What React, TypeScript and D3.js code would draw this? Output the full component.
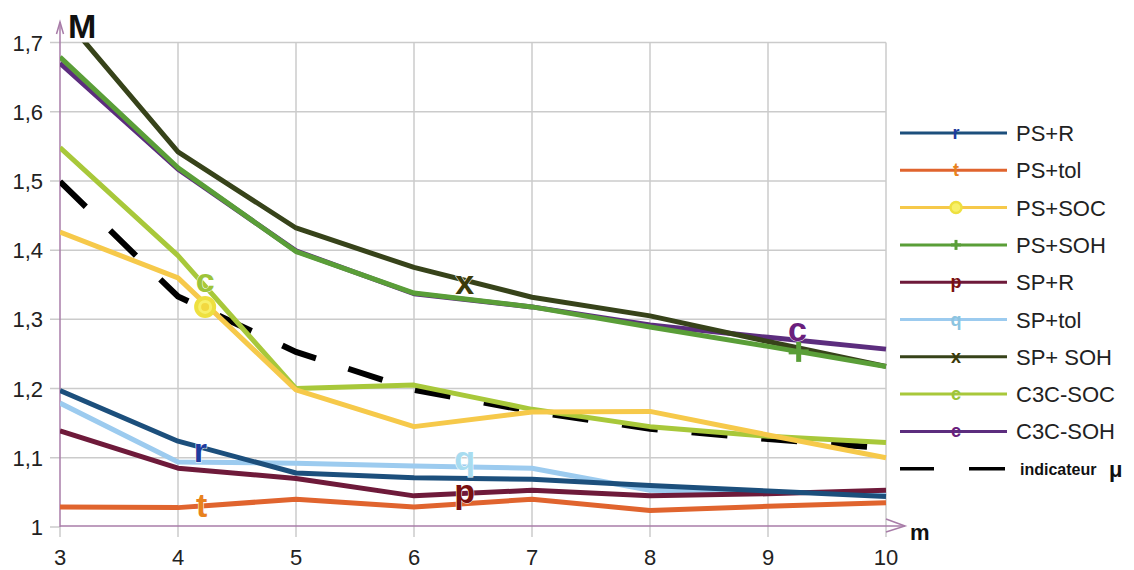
import React from "react";
import * as d3 from "d3";

const mValues = [3, 4, 5, 6, 7, 8, 9, 10];
const yTicks = [1, 1.1, 1.2, 1.3, 1.4, 1.5, 1.6, 1.7];
const yTickLabels = ["1", "1,1", "1,2", "1,3", "1,4", "1,5", "1,6", "1,7"];
const xTickLabels = ["3", "4", "5", "6", "7", "8", "9", "10"];

const psR = [1.197, 1.124, 1.078, 1.071, 1.069, 1.06, 1.052, 1.044];
const psTol = [1.029, 1.028, 1.04, 1.029, 1.04, 1.024, 1.03, 1.035];
const psSOC = [1.426, 1.36, 1.198, 1.145, 1.166, 1.167, 1.133, 1.1];
const psSOH = [1.679, 1.519, 1.398, 1.338, 1.318, 1.289, 1.261, 1.232];
const spR = [1.139, 1.085, 1.07, 1.045, 1.053, 1.045, 1.048, 1.053];
const spTol = [1.179, 1.094, 1.092, 1.088, 1.085, 1.053, 1.05, 1.05];
const spSOH = [1.743, 1.542, 1.432, 1.375, 1.332, 1.305, 1.268, 1.232];
const c3cSOC = [1.548, 1.392, 1.2, 1.205, 1.17, 1.145, 1.131, 1.122];
const c3cSOH = [1.67, 1.517, 1.399, 1.337, 1.318, 1.292, 1.274, 1.257];
const muValues = [1.499, 1.333, 1.253, 1.198, 1.167, 1.142, 1.127, 1.114];

const seriesNames = ["PS+R", "PS+tol", "PS+SOC", "PS+SOH", "SP+R", "SP+tol", "SP+ SOH", "C3C-SOC", "C3C-SOH"];
const seriesValues = [psR, psTol, psSOC, psSOH, spR, spTol, spSOH, c3cSOC, c3cSOH];
const seriesColors = ["#1c4f7c", "#e0642e", "#f6c94a", "#5a9e38", "#6e1a3a", "#9ccbef", "#37431a", "#a8c83a", "#5c2d7e"];
const seriesGlyphs = ["r", "t", "o", "+", "p", "q", "x", "c", "c"];
const glyphColors = ["#1f3c9e", "#e8821e", "#f2e430", "#5a9e38", "#7a1010", "#a8dcf0", "#3b3a0a", "#9dc43a", "#6a1f7d"];
const muName = "indicateur";

// on-chart glyph annotations: [series index, m, M]
const annotations: [number, number, number][] = [
  [0, 4.19, 1.11],
  [1, 4.2, 1.03],
  [7, 4.23, 1.355],
  [2, 4.23, 1.318],
  [6, 6.43, 1.353],
  [5, 6.43, 1.098],
  [4, 6.43, 1.05],
  [8, 9.25, 1.285],
  [3, 9.26, 1.253],
];

const drawOrder = [8, 7, 6, 5, 4, 3, 2, 1, 0];

export default function App() {
  const left = 60, right = 886, top = 42.5, bottom = 527;
  const x = d3.scaleLinear().domain([3, 10]).range([left, right]);
  const y = d3.scaleLinear().domain([1, 1.7]).range([bottom, top]);
  const line = d3
    .line<number>()
    .x((_, i) => x(mValues[i]))
    .y((d) => y(d));
  const font = "'Liberation Sans', Arial, sans-serif";
  const axisColor = "#a87ca8";
  const gridColor = "#cbcbcb";
  const legendX = 900;
  const legendY0 = 133;
  const legendStep = 37.3;

  return (
    <svg
      width={1134}
      height={570}
      style={{ position: "absolute", left: 0, top: 0, background: "#fff" }}
      fontFamily={font}
    >
      <defs>
        <clipPath id="plotClip">
          <rect x={left} y={top} width={right - left + 4} height={bottom - top} />
        </clipPath>
      </defs>
      {/* grid */}
      {yTicks.slice(1).map((t) => (
        <line key={"h" + t} x1={left - 10} x2={right} y1={y(t)} y2={y(t)} stroke={gridColor} strokeWidth={1.5} />
      ))}
      {mValues.slice(1).map((m) => (
        <line key={"v" + m} x1={x(m)} x2={x(m)} y1={top} y2={bottom + 10} stroke={gridColor} strokeWidth={1.5} />
      ))}
      <line x1={left - 10} x2={left} y1={bottom} y2={bottom} stroke={gridColor} strokeWidth={1.5} />
      <line x1={left} x2={left} y1={bottom} y2={bottom + 10} stroke={gridColor} strokeWidth={1.5} />
      {/* tick labels */}
      {yTicks.map((t, i) => (
        <text key={"yl" + t} x={43} y={y(t) + 8} textAnchor="end" fontSize={22} fill="#222">
          {yTickLabels[i]}
        </text>
      ))}
      {mValues.map((m, i) => (
        <text key={"xl" + m} x={x(m)} y={565} textAnchor="middle" fontSize={22} fill="#222">
          {xTickLabels[i]}
        </text>
      ))}
      {/* axes */}
      <line x1={left} x2={left} y1={bottom} y2={22} stroke={axisColor} strokeWidth={1.5} />
      <polyline points={`${left - 3.5},34 ${left},22 ${left + 3.5},34`} fill="none" stroke={axisColor} strokeWidth={1.5} />
      <line x1={left} x2={905} y1={bottom - 1} y2={bottom - 1} stroke={axisColor} strokeWidth={1.5} />
      <polyline points={`886,519 905,526 886,532`} fill="none" stroke={axisColor} strokeWidth={1.5} />
      <text x={68} y={38} fontSize={34} fontWeight="bold" fill="#111">M</text>
      <text x={910} y={540} fontSize={22} fontWeight="bold" fill="#111">m</text>
      {/* series */}
      <g clipPath="url(#plotClip)">
        <path d={line(muValues) || ""} fill="none" stroke="#000" strokeWidth={6} strokeDasharray="36,34" />
        {drawOrder.map((i) => (
          <path
            key={"s" + i}
            d={line(seriesValues[i]) || ""}
            fill="none"
            stroke={seriesColors[i]}
            strokeWidth={5}
            strokeLinejoin="round"
          />
        ))}
      </g>
      {/* annotations */}
      {annotations.map(([si, m, v], k) =>
        seriesGlyphs[si] === "o" ? (
          <g key={"a" + k}>
            <circle cx={x(m)} cy={y(v)} r={9} fill="#f7f06a" stroke="#eee040" strokeWidth={4} />
            <circle cx={x(m)} cy={y(v)} r={4} fill="#f2d840" />
          </g>
        ) : seriesGlyphs[si] === "+" ? (
          <g key={"a" + k} stroke={glyphColors[si]} strokeWidth={5}>
            <line x1={x(m) - 10} x2={x(m) + 10} y1={y(v)} y2={y(v)} />
            <line x1={x(m)} x2={x(m)} y1={y(v) - 10} y2={y(v) + 10} />
          </g>
        ) : (
          <text
            key={"a" + k}
            x={x(m)}
            y={y(v) + 11}
            textAnchor="middle"
            fontSize={34}
            fontWeight="bold"
            fill={glyphColors[si]}
            stroke="#fff"
            strokeWidth={1}
            paintOrder="stroke"
          >
            {seriesGlyphs[si]}
          </text>
        )
      )}
      {/* legend */}
      {seriesNames.map((name, i) => {
        const ly = legendY0 + i * legendStep;
        return (
          <g key={"lg" + i}>
            <line x1={legendX} x2={legendX + 107} y1={ly} y2={ly} stroke={seriesColors[i]} strokeWidth={3} />
            {seriesGlyphs[i] === "o" ? (
              <circle cx={956} cy={ly} r={5.5} fill="#f7f06a" stroke="#eee040" strokeWidth={2.5} />
            ) : seriesGlyphs[i] === "+" ? (
              <g stroke={glyphColors[i]} strokeWidth={3}>
                <line x1={951} x2={961} y1={ly} y2={ly} />
                <line x1={956} x2={956} y1={ly - 5} y2={ly + 5} />
              </g>
            ) : (
              <text x={956} y={ly + 6} textAnchor="middle" fontSize={18} fontWeight="bold" fill={glyphColors[i] === "#a8dcf0" ? "#8cc4e0" : glyphColors[i]}>
                {seriesGlyphs[i]}
              </text>
            )}
            <text x={1016} y={ly + 8} fontSize={22} fill="#222">
              {name}
            </text>
          </g>
        );
      })}
      {(() => {
        const ly = legendY0 + 9 * legendStep;
        return (
          <g>
            <line x1={900} x2={934} y1={ly} y2={ly} stroke="#000" strokeWidth={3.5} />
            <line x1={969} x2={1005} y1={ly} y2={ly} stroke="#000" strokeWidth={3.5} />
            <text x={1020} y={ly + 6} fontSize={16} fontWeight="bold" fill="#111">
              {muName}
            </text>
            <text x={1109} y={ly + 8} fontSize={22} fontWeight="bold" fill="#111">
              μ
            </text>
          </g>
        );
      })()}
    </svg>
  );
}
